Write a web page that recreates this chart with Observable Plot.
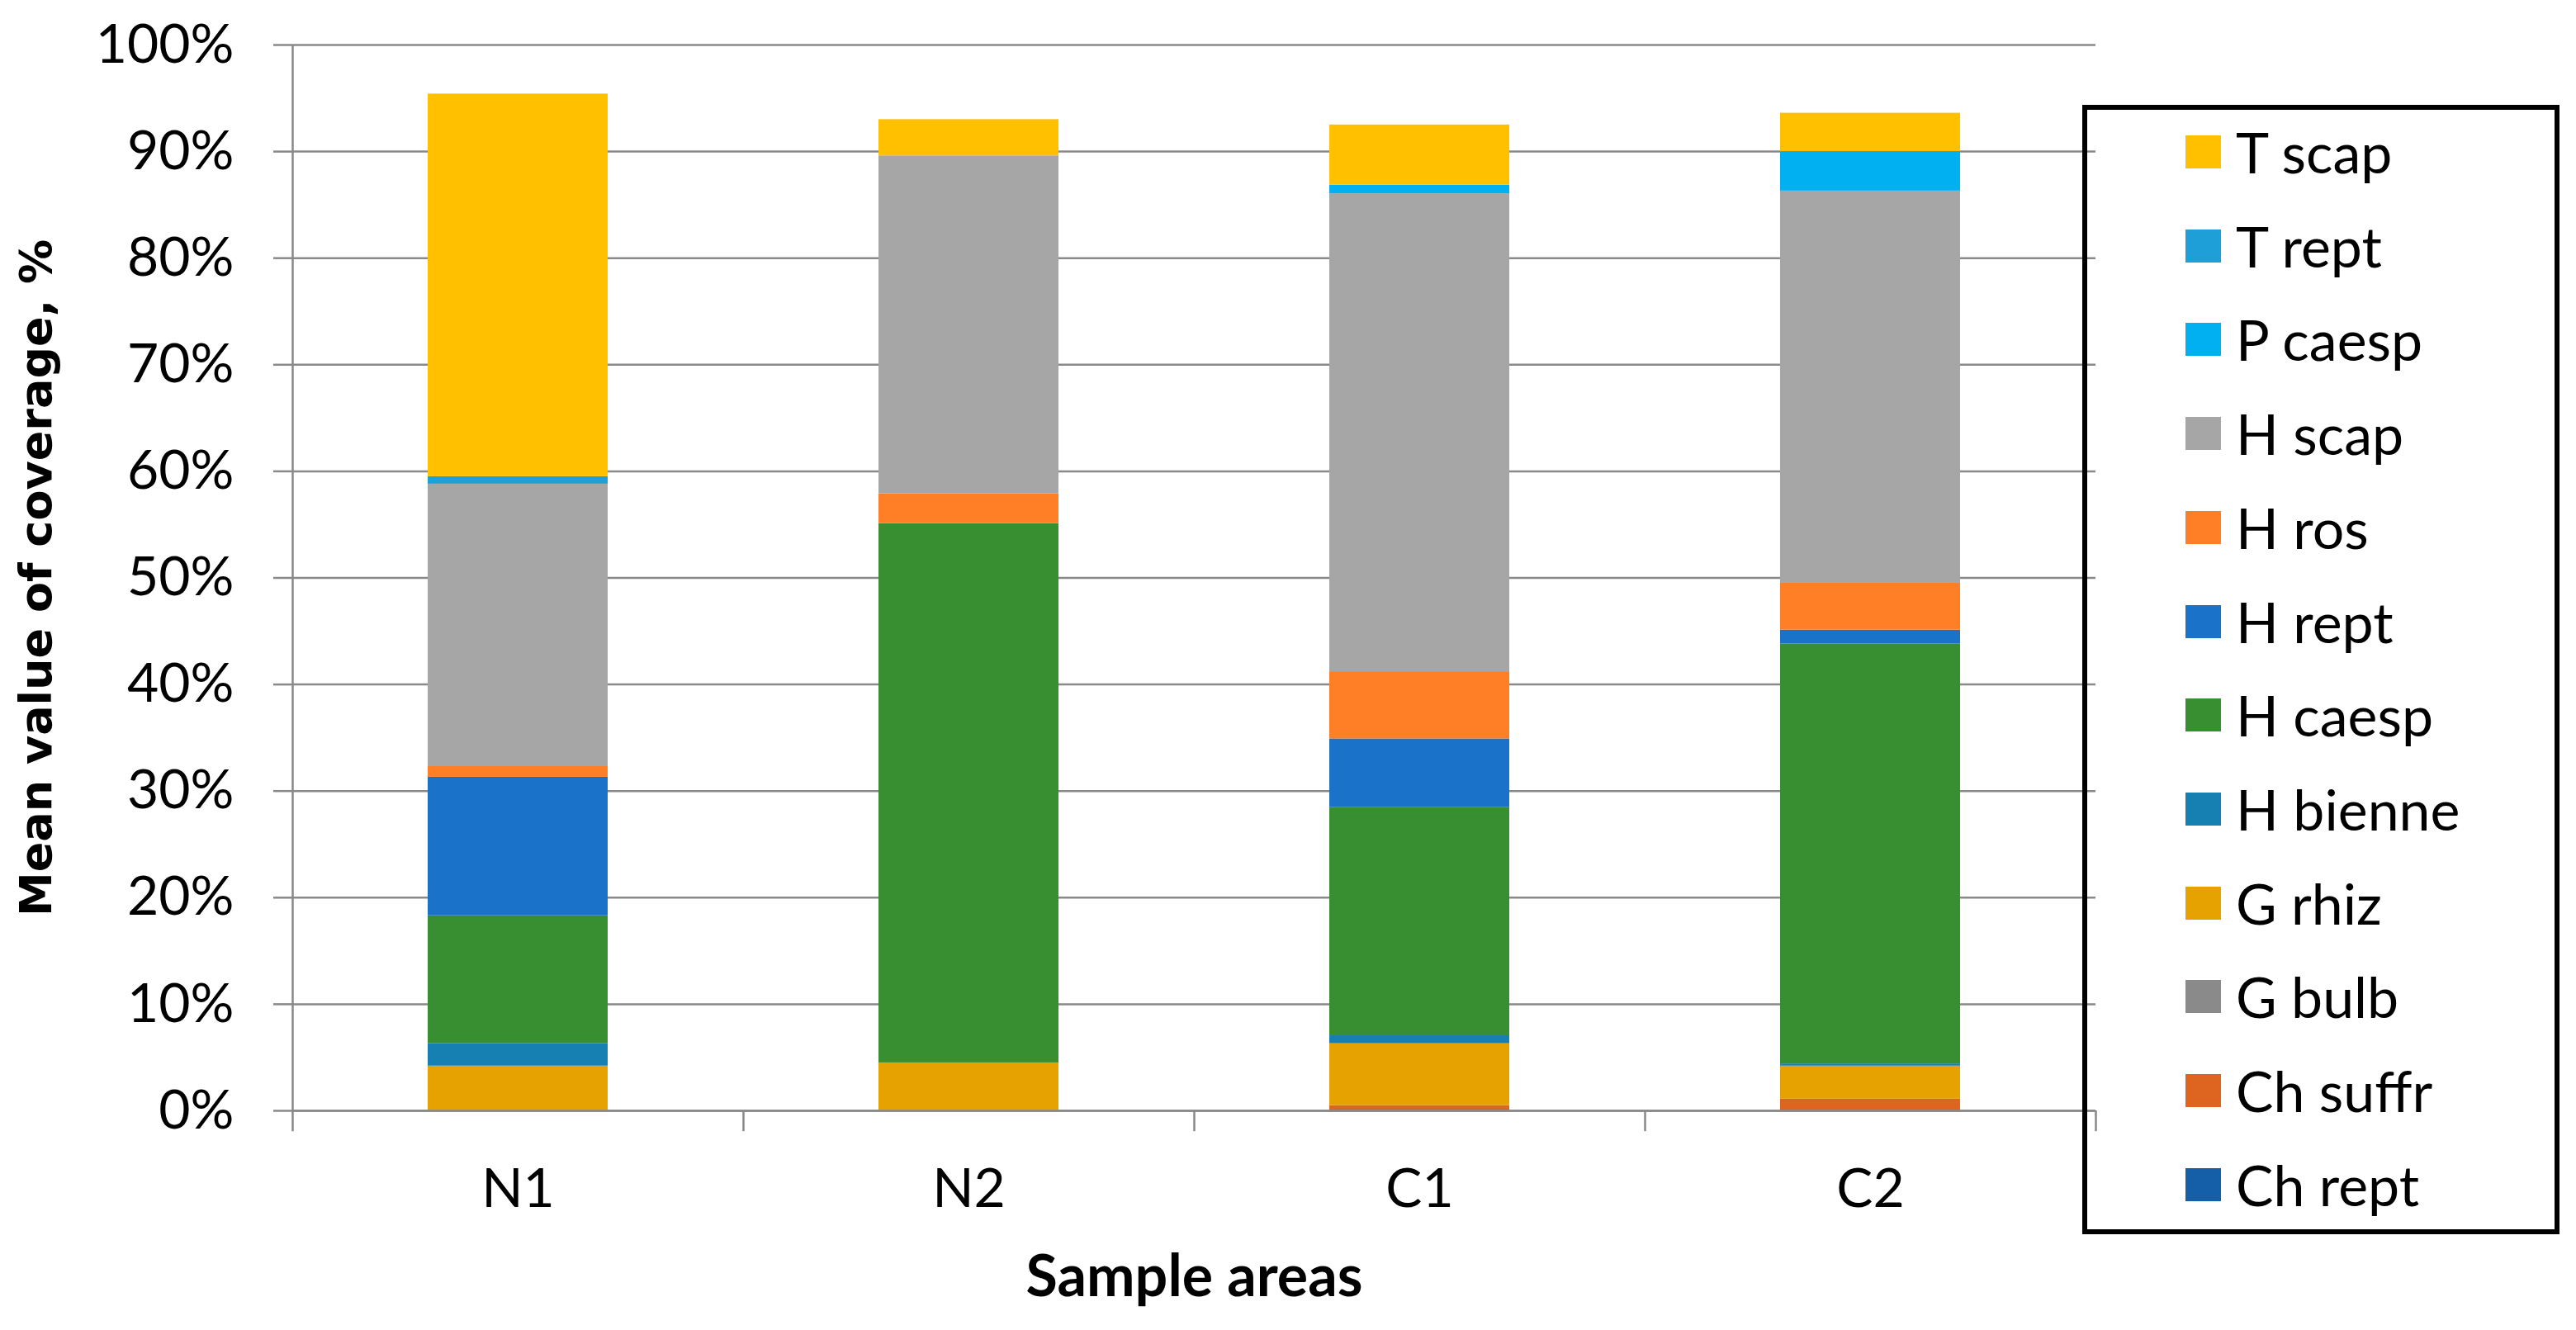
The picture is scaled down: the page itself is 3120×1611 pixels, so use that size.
<!DOCTYPE html>
<html>
<head>
<meta charset="utf-8">
<script src="https://cdn.jsdelivr.net/npm/d3@7"></script>
<script src="https://cdn.jsdelivr.net/npm/@observablehq/plot@0.6"></script>
<style>
  html, body { margin: 0; padding: 0; background: #ffffff; }
  #wrap { position: relative; width: 3120px; height: 1611px; font-family: Lato, "Open Sans", sans-serif; }
  #legend { position: absolute; left: 2522px; top: 127px; width: 578px; height: 1368px; border: 6px solid #000; box-sizing: border-box; }
  .item { position: absolute; left: 0; display: flex; align-items: center; height: 100px; }
  .sw { width: 43px; height: 40px; margin-left: 119px; margin-right: 18px; }
  .lab { font-family: Lato, sans-serif; font-size: 68px; color: #000; line-height: 1; white-space: nowrap; }
</style>
</head>
<body>
<div id="wrap"><div id="legend"></div></div>
<script>
// Categories (sample areas)
const sites = ["N1", "N2", "C1", "C2"];
// Life forms, stacking order from bottom to top
const species = ["Ch rept", "Ch suffr", "G bulb", "G rhiz", "H bienne", "H caesp", "H rept", "H ros", "H scap", "P caesp", "T rept", "T scap"];
const colors  = ["#155fa8", "#dd6520", "#8a8a8a", "#e5a200", "#1780b2", "#378f31", "#1a73c8", "#ff7f27", "#a6a6a6", "#00b0f0", "#1e9fd8", "#ffc000"];
// Mean coverage (%) per sample area, in the same order as species
const N1 = [0, 0,   0, 4.2, 2.1,  12.0, 13.0, 1.0, 26.5, 0,   0.7, 35.9];
const N2 = [0, 0,   0, 4.5, 0,    50.6, 0,    2.8, 31.7, 0,   0,   3.4];
const C1 = [0, 0.5, 0, 5.8, 0.75, 21.4, 6.45, 6.3, 44.85, 0.8, 0,  5.65];
const C2 = [0, 1.1, 0, 3.1, 0.2,  39.4, 1.3,  4.4, 36.8, 3.7, 0,   3.6];
const yTicks = [0, 10, 20, 30, 40, 50, 60, 70, 80, 90, 100];
const yTitle = "Mean value of coverage, %";
const xTitle = "Sample areas";

const seriesBySite = {N1, N2, C1, C2};
const data = sites.flatMap(s => species.map((sp, i) => ({site: s, species: sp, value: seriesBySite[s][i]})));

const W = 3120, H = 1611;
const mL = 354, mR = 582, mT = 54, mB = 266;
const step = (W - mL - mR) / sites.length;
const grid = "#898989";

const chart = Plot.plot({
  width: W,
  height: H,
  marginLeft: mL,
  marginRight: mR,
  marginTop: mT,
  marginBottom: mB,
  style: {fontFamily: "Lato, 'Open Sans', sans-serif", fontSize: "66px", background: "transparent", color: "#000", overflow: "visible"},
  x: {domain: sites, paddingInner: 0.6, paddingOuter: 0.3, axis: null},
  y: {domain: [0, 100], axis: null},
  color: {domain: species, range: colors},
  marks: [
    Plot.ruleY(yTicks, {y: d => d, stroke: grid, strokeWidth: 2.5}),
    Plot.axisY({ticks: yTicks, tickSize: 23, tickFormat: () => "", stroke: grid, strokeWidth: 2.5, label: null}),
    Plot.axisY({ticks: yTicks, tickSize: 0, tickPadding: 71, tickFormat: d => d + "%", fontSize: 66, fill: "#000", label: null}),
    Plot.ruleX([0], {x: () => sites[0], dx: -step / 2, y1: -1.95, y2: 100, stroke: grid, strokeWidth: 2.5}),
    Plot.ruleX(sites, {x: d => d, dx: step / 2, y1: 0, y2: -1.95, stroke: grid, strokeWidth: 2.5}),
    Plot.barY(data, Plot.stackY({x: "site", y: "value", fill: "species", order: species})),
    Plot.ruleY([0], {stroke: grid, strokeWidth: 2.5}),
    Plot.axisX({tickSize: 0, tickPadding: 70, fontSize: 66, fill: "#000", label: null}),
    Plot.text([xTitle], {frameAnchor: "bottom", dy: 224, fontSize: 70, fontWeight: "bold", fill: "#000"}),
    Plot.text([yTitle], {frameAnchor: "left", textAnchor: "middle", dx: -310, rotate: -90, fontSize: 54, fontWeight: "bold", fill: "#000", fontFamily: "'DejaVu Sans', Verdana, sans-serif"})
  ]
});
document.getElementById("wrap").prepend(chart);

// Legend (top-to-bottom: reverse of stacking order)
const legend = document.getElementById("legend");
const legendItems = species.map((s, i) => ({s, c: colors[i]})).reverse();
legendItems.forEach((d, i) => {
  const centre = 184 + i * 113.7;          // page coordinate of row centre
  const row = document.createElement("div");
  row.className = "item";
  row.style.top = (centre - 127 - 6 - 50) + "px";
  const sw = document.createElement("div");
  sw.className = "sw";
  sw.style.background = d.c;
  const lab = document.createElement("span");
  lab.className = "lab";
  lab.textContent = d.s;
  row.append(sw, lab);
  legend.append(row);
});
</script>
</body>
</html>
